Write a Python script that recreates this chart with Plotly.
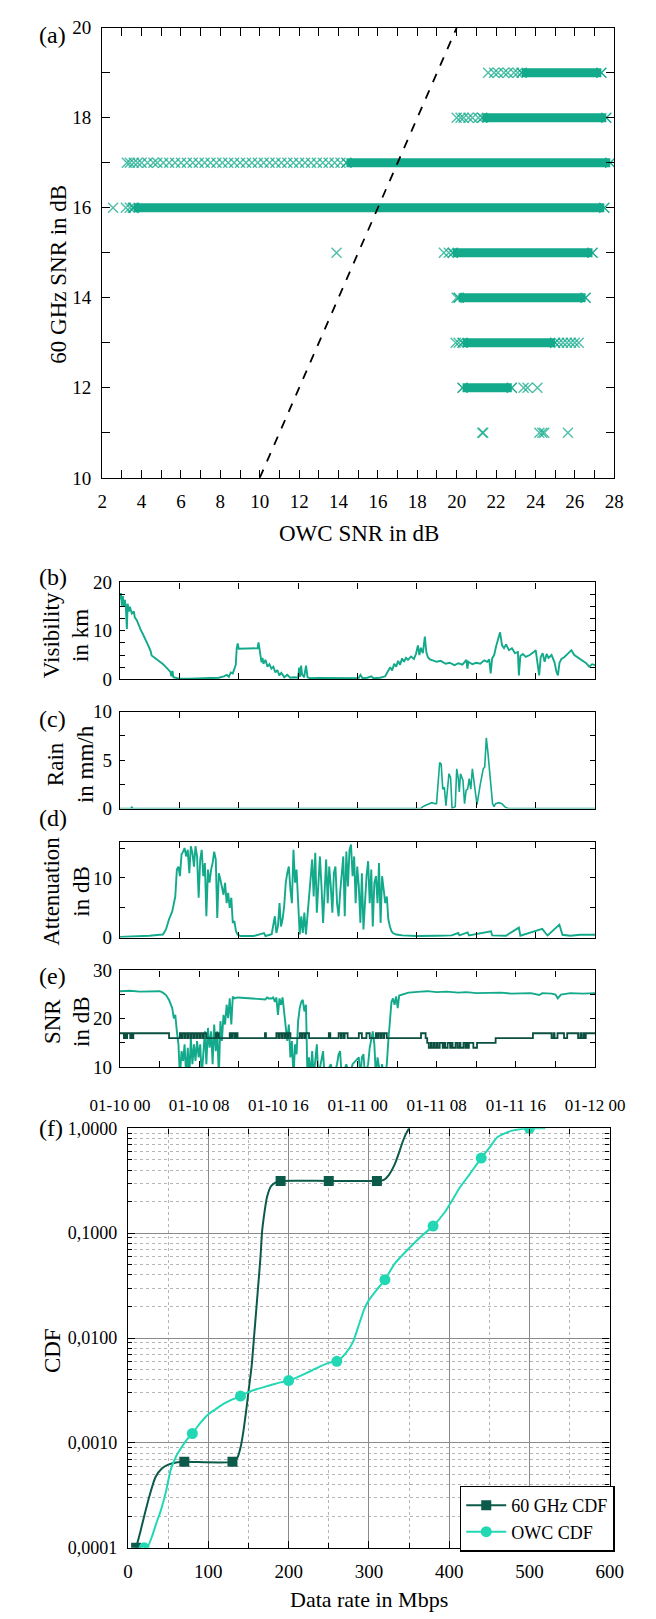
import plotly.graph_objects as go
import pandas as pd

# ---------------- DATA ----------------
# (a) scatter: 60 GHz SNR levels vs OWC SNR
a_levels = [19, 18, 17, 16, 15, 14, 13, 12]
a_dense_start = [23.3, 21.3, 14.4, 3.6, 19.8, 20.1, 20.3, 20.3]
a_dense_end = [27.35, 27.6, 27.8, 27.5, 26.9, 26.55, 25.0, 22.8]
a_sparse_x = [21.6, 21.9, 22.1, 22.4, 22.6, 22.9, 23.1,
              20.0, 20.2, 20.35, 20.6, 20.8, 21.1,
              3.25, 3.4, 3.6, 3.8, 4.0, 4.3, 4.6, 4.8, 5.1, 5.4, 5.7, 6.0, 6.3, 6.6, 6.9, 7.2,
              7.5, 7.8, 8.1, 8.4, 8.7, 9.0, 9.3, 9.6, 9.9, 10.2, 10.5, 10.8, 11.1, 11.4, 11.7,
              12.0, 12.3, 12.6, 12.9, 13.2, 13.5, 13.8, 14.1,
              2.55, 3.2, 3.4, 3.55,
              13.9, 19.35, 19.6,
              20.0,
              19.95, 20.1, 25.2, 25.4, 25.6, 25.8, 26.0, 26.2,
              23.4, 23.6, 24.1,
              21.3, 21.35, 24.2, 24.35, 24.45, 25.65]
a_sparse_y = [19] * 7 + [18] * 6 + [17] * 39 + [16] * 4 + [15] * 3 + [14] + [13] * 8 + [12] * 3 + [11] * 6
a_ref_x = [10, 20]
a_ref_y = [10, 20]
a_xticks = list(range(2, 29))
a_yticks = list(range(10, 21))

# (b) visibility in km (hours from 01-10 00)
vis_h = [0, 0.1, 0.2, 0.3, 0.4, 0.5, 0.6, 0.7, 0.78, 0.9, 1.0, 1.2, 1.4, 1.5, 1.7, 1.9, 2.1, 2.3, 2.5, 2.7,
         2.9, 3.1, 3.2, 3.4, 3.6, 3.8, 4.0, 4.3, 4.6, 4.9, 5.1, 5.2, 5.3, 5.4, 5.7, 6.0, 7, 8, 9, 10, 10.5,
         10.8, 11.0, 11.2, 11.4, 11.6, 11.7, 11.8, 11.9, 12.0, 13.9, 14.0, 14.1, 14.2, 14.3, 14.4, 14.5,
         14.7, 14.9, 15.1, 15.3, 15.5, 15.7, 15.9, 16.1, 16.3, 16.6, 16.9, 17.2, 17.6, 18.0, 18.1, 18.2,
         18.3, 18.4, 18.6, 18.8, 18.95, 19.2, 20, 21, 22, 23, 24.1, 24.3, 24.5, 25.0, 25.4, 25.6, 26.3,
         26.8, 27.1, 27.3, 27.5, 27.7, 27.9, 28.1, 28.3, 28.5, 28.7, 28.9, 29.1, 29.4, 29.7, 29.9, 30.1,
         30.25, 30.4, 30.6, 30.8, 30.95, 31.1, 31.3, 31.6, 32.0, 32.4, 32.9, 33.3, 33.8, 34.2, 34.6, 35.0,
         35.1, 35.2, 35.6, 36.0, 36.4, 36.8, 37.1, 37.3, 37.45, 37.6, 37.8, 38.0, 38.2, 38.4, 38.6, 38.8,
         39.0, 39.3, 39.6, 39.9, 40.2, 40.3, 40.45, 40.7, 41.0, 41.4, 41.8, 42.0, 42.2, 42.35, 42.5, 42.7,
         42.9, 43.1, 43.3, 43.6, 43.9, 44.1, 44.25, 44.4, 44.6, 44.9, 45.2, 45.6, 45.9, 46.2, 46.5, 46.8,
         47.1, 47.4, 47.7, 48.0]
vis_v = [16.5, 17.8, 15.2, 17.2, 15.0, 16.4, 14.8, 10.4, 15.6, 14.0, 15.0, 13.6, 14.0, 12.8, 12.2, 11.0, 10.2,
         9.4, 8.6, 7.6, 6.8, 5.8, 4.9, 4.6, 4.3, 3.9, 3.6, 3.2, 2.6, 1.9, 1.5, 0.6, 1.7, 0.4, 0.2, 0.1, 0.1,
         0.15, 0.2, 0.3, 0.6, 0.9, 0.5, 1.4, 1.2, 2.4, 3.0, 6.5, 7.4, 6.3, 6.4, 7.6, 6.0, 4.8, 3.5, 4.4, 3.2,
         4.0, 2.6, 3.1, 2.2, 2.6, 1.4, 1.9, 0.8, 1.3, 0.4, 0.9, 0.3, 0.4, 0.3, 2.4, 0.5, 2.8, 1.0, 0.4, 2.8,
         0.4, 0.2, 0.25, 0.2, 0.3, 0.2, 0.2, 0.9, 0.2, 0.3, 0.6, 0.2, 0.3, 0.6, 1.6, 2.5, 1.8, 3.2, 2.6,
         3.8, 3.0, 4.3, 3.6, 4.4, 4.0, 4.7, 4.2, 5.2, 7.0, 5.0, 6.5, 5.4, 8.8, 5.6, 4.6, 4.1, 3.9, 3.6,
         3.8, 3.2, 3.4, 2.9, 3.3, 3.0, 4.0, 2.2, 3.6, 3.1, 3.4, 3.2, 3.9, 3.6, 4.1, 1.2, 4.3, 5.0, 6.8,
         8.4, 9.7, 7.0, 6.4, 7.2, 6.0, 6.4, 5.4, 5.6, 0.8, 4.8, 5.2, 4.6, 5.0, 5.6, 6.0, 3.0, 0.8, 4.5,
         5.4, 3.6, 5.2, 4.4, 5.0, 3.5, 1.5, 0.8, 3.4, 4.2, 4.6, 5.2, 6.0, 5.0, 4.6, 4.2, 3.8, 3.3, 2.6,
         3.1, 2.9]

# (c) rain in mm/h
rain_h = [0, 1.1, 1.2, 1.3, 30.4, 30.57, 30.88, 31.2, 31.51, 31.83, 31.98, 32.3, 32.45, 32.61, 32.77, 32.93,
          33.08, 33.24, 33.4, 33.55, 33.87, 34.02, 34.18, 34.28, 34.4, 34.65, 34.81, 34.97, 35.12, 35.28,
          35.44, 35.6, 35.75, 35.91, 36.07, 36.38, 36.7, 36.85, 37.01, 37.17, 37.32, 37.48, 37.64, 37.79,
          37.95, 38.27, 38.58, 38.89, 39.21, 48]
rain_v = [0, 0, 0.15, 0, 0, 0.17, 0.34, 0.5, 0.6, 0.5, 0.5, 4.75, 4.6, 2.0, 2.2, 0.3, 2.0, 3.6, 3.2, 0.0,
          0.2, 4.1, 3.1, 1.7, 3.6, 2.9, 0.5, 1.9, 2.0, 3.1, 2.0, 4.1, 2.9, 1.7, 0.4, 2.4, 4.1, 4.3, 7.3,
          5.8, 4.2, 2.5, 0.5, 0.2, 0.5, 0.6, 0.5, 0.17, 0, 0]

# (d) attenuation in dB
att_h = [0, 1.5, 3.0, 4.0, 4.34, 4.65, 4.96, 5.28, 5.59, 5.75, 5.91, 6.06, 6.22, 6.38, 6.53, 6.69, 6.85, 7.01,
         7.16, 7.32, 7.48, 7.63, 7.79, 7.95, 8.11, 8.26, 8.42, 8.58, 8.73, 8.89, 9.05, 9.21, 9.36, 9.52,
         9.68, 9.83, 9.99, 10.15, 10.3, 10.46, 10.62, 10.78, 10.93, 11.09, 11.25, 11.4, 11.56, 11.72, 11.88,
         12.19, 13.5, 14.55, 14.7, 15.0, 15.33, 15.65, 15.8, 15.96, 16.12, 16.27, 16.43, 16.59, 16.75, 16.9,
         17.06, 17.22, 17.37, 17.53, 17.69, 17.84, 18.0, 18.16, 18.32, 18.47, 18.63, 18.79, 18.94, 19.1,
         19.26, 19.42, 19.57, 19.73, 19.89, 20.04, 20.2, 20.36, 20.52, 20.67, 20.83, 20.99, 21.14, 21.3,
         21.46, 21.61, 21.77, 21.93, 22.09, 22.24, 22.4, 22.56, 22.71, 22.87, 23.03, 23.19, 23.34, 23.5,
         23.66, 23.81, 23.97, 24.13, 24.29, 24.44, 24.6, 24.76, 24.91, 25.07, 25.23, 25.39, 25.54, 25.7,
         25.86, 26.02, 26.17, 26.33, 26.48, 26.64, 26.8, 26.96, 27.11, 27.27, 27.43, 27.58, 27.9, 28.53,
         30, 32, 33.5, 34.18, 34.3, 35.12, 35.25, 37.48, 37.6, 39, 40.3, 40.45, 42.35, 42.66, 42.98, 43.2,
         44.39, 44.7, 45.5, 46.5, 48]
att_v = [0.15, 0.2, 0.35, 0.5, 0.55, 1.4, 3.1, 4.4, 6.9, 11.4, 11.9, 10.3, 13.9, 14.4, 15.0, 13.6, 14.7,
         10.8, 15.3, 14.2, 11.9, 15.3, 13.6, 6.7, 13.1, 14.7, 10.3, 12.5, 3.6, 11.4, 9.2, 11.4, 12.5, 14.4,
         13.1, 3.3, 10.8, 9.7, 8.6, 7.2, 9.2, 5.8, 7.5, 5.0, 6.7, 2.5, 2.8, 1.1, 0.55, 0.3, 0.3, 0.8, 0.3,
         0.4, 0.6, 3.6, 0.8, 1.9, 5.8, 1.9, 3.1, 5.3, 9.2, 10.8, 11.9, 8.1, 5.8, 14.7, 9.2, 11.4, 4.7, 0.55,
         3.6, 0.8, 4.2, 0.55, 3.6, 6.9, 10.3, 13.1, 6.9, 14.2, 4.2, 9.7, 13.6, 8.6, 2.5, 7.5, 13.1, 5.8,
         11.9, 8.6, 4.2, 10.8, 11.9, 5.8, 3.6, 7.5, 10.3, 13.6, 3.6, 14.4, 8.6, 14.7, 15.6, 10.3, 13.6,
         5.8, 11.9, 8.6, 2.5, 10.8, 1.4, 6.9, 10.3, 12.8, 5.8, 11.4, 1.9, 9.2, 10.3, 5.8, 12.5, 2.5, 10.3,
         8.1, 5.8, 6.9, 3.1, 1.9, 1.1, 0.8, 0.55, 0.4, 0.3, 0.35, 0.4, 0.8, 0.4, 0.9, 0.4, 1.1, 0.4, 0.35,
         1.7, 0.35, 1.4, 1.5, 0.8, 0.4, 2.2, 0.5, 0.35, 0.5, 0.5]

# (e) SNR in dB: OWC (teal) and 60 GHz (dark)
owc_h = [0, 1, 2, 3, 4.02, 4.34, 4.65, 4.96, 5.28, 5.44, 5.59, 5.75, 5.91, 6.06, 6.22, 6.38, 6.53, 6.69, 6.85,
         7.01, 7.16, 7.32, 7.48, 7.63, 7.79, 7.95, 8.11, 8.26, 8.42, 8.58, 8.73, 8.89, 9.05, 9.21, 9.36,
         9.52, 9.68, 9.83, 9.99, 10.15, 10.3, 10.46, 10.62, 10.78, 10.93, 11.09, 11.25, 11.4, 11.56, 11.88,
         14.7, 14.86, 15.02, 15.33, 15.49, 15.65, 15.8, 15.96, 16.12, 16.27, 16.43, 16.59, 16.75, 16.9,
         17.06, 17.22, 17.37, 17.53, 17.69, 17.84, 18.0, 18.16, 18.32, 18.47, 18.63, 18.79, 18.94, 19.1,
         19.26, 19.42, 19.57, 19.73, 19.89, 20.04, 20.36, 20.52, 20.67, 20.99, 21.3, 21.61, 21.93, 22.09,
         22.24, 22.4, 22.87, 23.19, 23.5, 24.13, 24.29, 24.44, 24.6, 24.76, 25.07, 25.23, 25.39, 25.54,
         25.7, 25.86, 26.02, 26.17, 26.33, 26.48, 26.64, 26.8, 26.96, 27.11, 27.27, 27.43, 27.58, 27.74,
         27.9, 28.06, 28.21, 28.53, 29.15, 30.41, 31.04, 32, 33, 34.18, 35, 36, 37.32, 38.5, 39.5, 40.46,
         41.5, 42.35, 42.66, 43.61, 44.0, 44.23, 44.55, 45.5, 46.75, 48]
owc_v = [25.7, 25.8, 25.6, 25.7, 25.7, 25.4, 24.9, 23.9, 22.2, 20.1, 20.8, 17.4, 14.7, 8, 13.3, 11.3, 14.7, 8,
         14.0, 8, 16.1, 10.6, 14.7, 11.3, 15.4, 12.0, 14.7, 8, 13.3, 17.4, 10.6, 18.1, 14.0, 17.4, 10.6,
         18.8, 13.3, 17.4, 8, 19.5, 15.4, 20.8, 18.8, 22.9, 20.1, 24.2, 18.8, 24.6, 24.2, 24.4, 24.0, 24.4,
         24.2, 24.2, 24.4, 23.5, 24.4, 20.8, 24.2, 22.9, 24.4, 20.8, 17.4, 15.4, 18.8, 12.0, 15.4, 8, 14.7,
         12.65, 19.5, 22.2, 23.5, 23.9, 21.5, 22.9, 8, 12.0, 8, 13.3, 8, 12.0, 14.7, 8, 11.3, 13.3, 8, 9.5,
         10.6, 8, 10.6, 12.65, 13.3, 8, 10.6, 8, 10.6, 12.0, 8, 12.0, 12.65, 8, 10.6, 14.0, 15.4, 17.4,
         14.7, 8, 12.0, 10.6, 8, 10.6, 8, 8, 10.6, 15.4, 19.5, 23.5, 24.2, 22.9, 24.6, 22.2, 24.8, 25.0,
         25.4, 25.6, 25.7, 25.5, 25.6, 25.4, 25.5, 25.3, 25.3, 25.4, 25.2, 25.2, 25.3, 24.9, 25.3, 25.2,
         25.0, 24.2, 25.0, 25.3, 25.2, 25.3]
g60_h = [0, 0.4, 0.5, 0.62, 0.72, 1.04, 1.15, 1.25, 1.35, 4.96,
         6.06, 6.2, 6.3, 6.5, 6.6, 6.8, 6.9, 7.1, 7.2, 7.4, 7.5, 7.7, 7.8, 8.0, 8.1, 8.3, 8.45, 8.73,
         9.68, 9.85, 9.9, 9.99, 11.09, 11.25, 11.4, 11.6, 11.7, 11.88, 14.65, 14.75,
         15.8, 16.0, 16.1, 16.3, 16.4, 16.6, 16.7, 16.9, 17.0, 17.22,
         18.16, 18.35, 18.45, 18.65, 18.75, 19.1, 21.1, 21.25,
         22.09, 22.3, 22.4, 22.6, 22.7, 23.0, 24.13, 24.44, 24.9, 25.23,
         25.86, 26.0, 26.1, 26.3, 26.4, 26.6, 26.7, 26.96,
         30.41, 30.88, 31.04,
         31.2, 31.4, 31.5, 31.7, 31.8, 32.0, 32.1, 32.3, 32.6, 32.75, 32.85, 33.1, 33.35, 33.5, 33.6, 33.9,
         34.1, 34.3, 34.4, 34.7, 34.9, 35.0, 35.1, 35.25, 35.7, 36.07,
         37.95, 41.72, 43.6, 43.8, 43.9, 44.2, 44.86, 45.18, 46.28, 46.5, 46.6, 46.8, 46.9, 47.06, 48]
g60_v = [17, 16, 17, 16, 17, 16, 17, 16, 17, 16,
         17, 16, 17, 16, 17, 16, 17, 16, 17, 16, 17, 16, 17, 16, 17, 16, 17, 16,
         17, 16, 17, 16, 17, 16, 17, 16, 17, 16, 17, 16,
         17, 16, 17, 16, 17, 16, 17, 16, 17, 16,
         17, 16, 17, 16, 17, 16, 17, 16,
         17, 16, 17, 16, 17, 16, 17, 16, 17, 16,
         17, 16, 17, 16, 17, 16, 17, 16,
         17, 16, 15,
         14, 15, 14, 15, 14, 15, 14, 15, 14, 15, 14, 15, 14, 15, 14, 15,
         14, 15, 14, 15, 14, 15, 14, 15, 14, 15,
         16, 17, 16, 17, 16, 17, 16, 17, 16, 17, 16, 17, 16, 17, 17]
time_labels_hours = [0, 8, 16, 24, 32, 40, 48]

# (f) CDF of data rate
f60_curve_x = [10, 15, 20, 27, 34, 42, 50, 60, 70, 130, 136, 140, 143, 147, 150, 154, 157, 160, 162, 165,
               167, 170, 173, 178, 184, 190, 250, 310, 318, 325, 332, 338, 342, 346, 350, 356]
f60_curve_y = [1e-4, 1.4e-4, 2e-4, 3.2e-4, 4.7e-4, 5.7e-4, 6.2e-4, 6.5e-4, 6.6e-4, 6.6e-4, 7.2e-4, 9e-4,
               1.2e-3, 2e-3, 3.1e-3, 5.5e-3, 1.05e-2, 2e-2, 3.1e-2, 6e-2, 0.105, 0.16, 0.22, 0.28, 0.305,
               0.315, 0.315, 0.315, 0.32, 0.36, 0.45, 0.6, 0.74, 0.88, 1.0, 1.25]
f60_mark_x = [10, 70, 130, 190, 250, 310]
f60_mark_y = [1e-4, 6.6e-4, 6.6e-4, 0.315, 0.315, 0.315]
owc_curve_x = [20, 25, 30, 35, 41, 47, 53, 60, 67, 73, 80, 90, 100, 110, 120, 130, 140, 150, 160, 170, 180,
               190, 200, 210, 220, 230, 240, 250, 260, 270, 280, 287, 294, 300, 310, 320, 332, 351, 365,
               380, 395, 413, 425, 440, 450, 460, 470, 480, 490, 500, 510, 520]
owc_curve_y = [1e-4, 1.05e-4, 1.3e-4, 1.7e-4, 2.3e-4, 3.4e-4, 5.5e-4, 7.5e-4, 9.2e-4, 1.07e-3, 1.23e-3,
               1.55e-3, 1.88e-3, 2.12e-3, 2.38e-3, 2.6e-3, 2.8e-3, 3.05e-3, 3.25e-3, 3.42e-3, 3.6e-3,
               3.78e-3, 3.93e-3, 4.2e-3, 4.55e-3, 4.95e-3, 5.4e-3, 5.8e-3, 6.0e-3, 7.0e-3, 9.1e-3, 1.3e-2,
               1.87e-2, 2.3e-2, 2.9e-2, 3.6e-2, 5.1e-2, 7.3e-2, 9.3e-2, 0.117, 0.16, 0.27, 0.36, 0.52, 0.65,
               0.82, 0.9, 0.955, 0.985, 1.0, 1.0, 1.0]
owc_mark_x = [20, 80, 140, 200, 260, 320, 380, 440, 500]
owc_mark_y = [1e-4, 1.23e-3, 2.8e-3, 3.93e-3, 6.0e-3, 3.6e-2, 0.117, 0.52, 1.0]
f_xticks = [0, 100, 200, 300, 400, 500, 600]
f_xminor = [50, 150, 250, 350, 450, 550]
f_yticks = [1e-4, 1e-3, 1e-2, 1e-1, 1]
f_ytext = ["0,0001", "0,0010", "0,0100", "0,1000", "1,0000"]

# ---------------- STYLE / LAYOUT ----------------
W, H = 656, 1619
TEAL = "#13a98b"
DARK = "#0b4f40"
C60 = "#0c5a49"
COWC = "#22d8b4"
FONT = "Liberation Serif, Times New Roman, DejaVu Serif, serif"
base = pd.Timestamp("2019-01-10 00:00")


def t(hours):
    return base + pd.to_timedelta(pd.Series(hours, dtype=float), unit="h")


def dx(a, b):
    return [a / W, b / W]


def dy(top, bottom):
    return [1 - bottom / H, 1 - top / H]


fig = go.Figure()

# ---- (a)
for lvl, s, e in zip(a_levels, a_dense_start, a_dense_end):
    fig.add_trace(go.Scatter(x=[s, e], y=[lvl, lvl], mode="lines+markers", xaxis="x", yaxis="y",
                             line=dict(color=TEAL, width=9),
                             marker=dict(symbol="x-thin", size=10, line=dict(color=TEAL, width=1.4)),
                             showlegend=False, hoverinfo="skip"))
fig.add_trace(go.Scatter(x=a_sparse_x, y=a_sparse_y, mode="markers", xaxis="x", yaxis="y",
                         marker=dict(symbol="x-thin", size=10,
                                     line=dict(color="rgba(19,169,139,0.75)", width=1.4)),
                         showlegend=False))
fig.add_trace(go.Scatter(x=a_ref_x, y=a_ref_y, mode="lines", xaxis="x", yaxis="y",
                         line=dict(color="black", width=1.8, dash="dash"), showlegend=False))

# ---- (b)-(e)
LW = 1.9
fig.add_trace(go.Scatter(x=t(vis_h), y=vis_v, mode="lines", xaxis="x2", yaxis="y2",
                         line=dict(color=TEAL, width=LW), showlegend=False))
fig.add_trace(go.Scatter(x=t(rain_h), y=rain_v, mode="lines", xaxis="x3", yaxis="y3",
                         line=dict(color=TEAL, width=1.6), showlegend=False))
fig.add_trace(go.Scatter(x=t(att_h), y=att_v, mode="lines", xaxis="x4", yaxis="y4",
                         line=dict(color=TEAL, width=LW), showlegend=False))
fig.add_trace(go.Scatter(x=t(owc_h), y=owc_v, mode="lines", xaxis="x5", yaxis="y5",
                         line=dict(color=TEAL, width=LW), showlegend=False))
fig.add_trace(go.Scatter(x=t(g60_h), y=g60_v, mode="lines", xaxis="x5", yaxis="y5",
                         line=dict(color=DARK, width=1.8, shape="hv"), showlegend=False))

# ---- (f)
fig.add_trace(go.Scatter(x=f60_curve_x, y=f60_curve_y, mode="lines", xaxis="x6", yaxis="y6",
                         line=dict(color=C60, width=2, shape="spline", smoothing=0.6), showlegend=False))
fig.add_trace(go.Scatter(x=f60_mark_x, y=f60_mark_y, mode="markers", xaxis="x6", yaxis="y6",
                         marker=dict(symbol="square", size=10, color=C60), showlegend=False))
fig.add_trace(go.Scatter(x=owc_curve_x, y=owc_curve_y, mode="lines", xaxis="x6", yaxis="y6",
                         line=dict(color=COWC, width=2, shape="spline", smoothing=0.6), showlegend=False))
fig.add_trace(go.Scatter(x=owc_mark_x, y=owc_mark_y, mode="markers", xaxis="x6", yaxis="y6",
                         marker=dict(symbol="circle", size=11, color=COWC), showlegend=False))
fig.add_trace(go.Scatter(x=[None], y=[None], mode="lines+markers", xaxis="x6", yaxis="y6",
                         name="60 GHz CDF", line=dict(color=C60, width=2),
                         marker=dict(symbol="square", size=10, color=C60)))
fig.add_trace(go.Scatter(x=[None], y=[None], mode="lines+markers", xaxis="x6", yaxis="y6",
                         name="OWC CDF", line=dict(color=COWC, width=2),
                         marker=dict(symbol="circle", size=11, color=COWC)))

axis_common = dict(showline=True, linecolor="black", linewidth=1.4, mirror="ticks", ticks="inside",
                   tickcolor="black", tickwidth=1.3, zeroline=False, showgrid=False,
                   tickfont=dict(family=FONT, size=19, color="black"))

tick_text = lambda vals, keep: [str(v) if keep(v) else "" for v in vals]

time_ticks_6 = [t([h]).iloc[0] for h in range(0, 49, 6)]
time_ticks_4 = [t([h]).iloc[0] for h in range(0, 49, 4)]
time_text_4 = [t([h]).iloc[0].strftime("%m-%d %H") if h in time_labels_hours else "" for h in range(0, 49, 4)]
trange = [t([0]).iloc[0], t([48]).iloc[0]]

layout = dict(
    width=W, height=H, margin=dict(l=0, r=0, t=0, b=0),
    paper_bgcolor="white", plot_bgcolor="white",
    font=dict(family=FONT, color="black"),
    xaxis=dict(axis_common, domain=dx(79.5, 643), range=[2, 28], anchor="y",
               tickvals=a_xticks, ticktext=tick_text(a_xticks, lambda v: v % 2 == 0),
               ticklen=8, ticklabelstandoff=6),
    yaxis=dict(axis_common, domain=dy(18, 474), range=[10, 20], anchor="x",
               tickvals=a_yticks, ticktext=tick_text(a_yticks, lambda v: v % 2 == 0),
               ticklen=8, ticklabelstandoff=6),
    xaxis2=dict(axis_common, domain=dx(99, 622), range=trange, anchor="y2", type="date",
                tickvals=time_ticks_6, showticklabels=False, ticklen=6),
    yaxis2=dict(axis_common, domain=dy(580, 678), range=[0, 20], anchor="x2",
                tickvals=[0, 2.5, 5, 7.5, 10, 12.5, 15, 17.5, 20],
                ticktext=["0", "", "", "", "10", "", "", "", "20"], ticklen=5, ticklabelstandoff=3),
    xaxis3=dict(axis_common, domain=dx(99, 622), range=trange, anchor="y3", type="date",
                tickvals=time_ticks_6, showticklabels=False, ticklen=6),
    yaxis3=dict(axis_common, domain=dy(711, 809), range=[0, 10], anchor="x3",
                tickvals=[0, 2.5, 5, 7.5, 10], ticktext=["0", "", "5", "", "10"], ticklen=5,
                ticklabelstandoff=3),
    xaxis4=dict(axis_common, domain=dx(99, 622), range=trange, anchor="y4", type="date",
                tickvals=time_ticks_6, showticklabels=False, ticklen=6),
    yaxis4=dict(axis_common, domain=dy(843, 940), range=[0, 16], anchor="x4",
                tickvals=[0, 5, 10, 15], ticktext=["0", "", "10", ""], ticklen=5, ticklabelstandoff=3),
    xaxis5=dict(axis_common, domain=dx(99, 622), range=trange, anchor="y5", type="date",
                tickvals=time_ticks_4, ticktext=time_text_4, ticklen=6, ticklabelstandoff=22,
                tickfont=dict(family=FONT, size=17, color="black")),
    yaxis5=dict(axis_common, domain=dy(973, 1071), range=[10, 30], anchor="x5",
                tickvals=[10, 15, 20, 25, 30], ticktext=["10", "", "20", "", "30"], ticklen=5,
                ticklabelstandoff=3),
    xaxis6=dict(axis_common, domain=dx(108, 638), range=[0, 600], anchor="y6",
                tickvals=f_xticks, ticktext=[str(v) for v in f_xticks], ticklen=7,
                showgrid=True, gridcolor="#8a8a8a", gridwidth=1, ticklabelstandoff=6,
                minor=dict(tickvals=f_xminor, ticks="inside", ticklen=5, tickcolor="black",
                           showgrid=True, gridcolor="#b5b5b5", griddash="dot", gridwidth=1)),
    yaxis6=dict(axis_common, domain=dy(1133, 1558), type="log", range=[-4, 0], anchor="x6",
                tickvals=f_yticks, ticktext=f_ytext, ticklen=7, showgrid=True, gridcolor="#8a8a8a",
                gridwidth=1, ticklabelstandoff=6, tickfont=dict(family=FONT, size=18, color="black"),
                minor=dict(tickvals=[m * 10 ** e for e in range(-4, 0) for m in range(2, 10)],
                           ticks="inside", ticklen=4, tickcolor="black", showgrid=True,
                           gridcolor="#b5b5b5", griddash="dot", gridwidth=1)),
    legend=dict(x=473 / W, y=1 - 1495 / H, xanchor="left", yanchor="top", bgcolor="white",
                bordercolor="black", borderwidth=1.5, font=dict(family=FONT, size=18, color="black"),
                itemwidth=40, tracegroupgap=0),
)
fig.update_layout(**layout)


def ann(text, x, y, size, angle=0):
    fig.add_annotation(text=text, x=x / W, y=1 - y / H, xref="paper", yref="paper", showarrow=False,
                       xanchor="center", yanchor="middle", textangle=angle,
                       font=dict(family=FONT, size=size, color="black"))


ann("(a)", 25, 25, 24)
ann("(b)", 25, 574, 24)
ann("(c)", 25, 718, 24)
ann("(d)", 25, 819, 24)
ann("(e)", 25, 979, 24)
ann("(f)", 23, 1133, 24)
ann("60 GHz SNR in dB", 31, 268, 23, -90)
ann("OWC SNR in dB", 362, 530, 23)
ann("Visibility<br>in km", 40, 633, 23, -90)
ann("Rain<br>in mm/h", 44, 764, 23, -90)
ann("Attenuation<br>in dB", 40, 893, 23, -90)
ann("SNR<br>in dB", 41, 1025, 23, -90)
ann("CDF", 25, 1358, 23, -90)
ann("Data rate in Mbps", 373, 1610, 22)

fig.write_html("out.html")
